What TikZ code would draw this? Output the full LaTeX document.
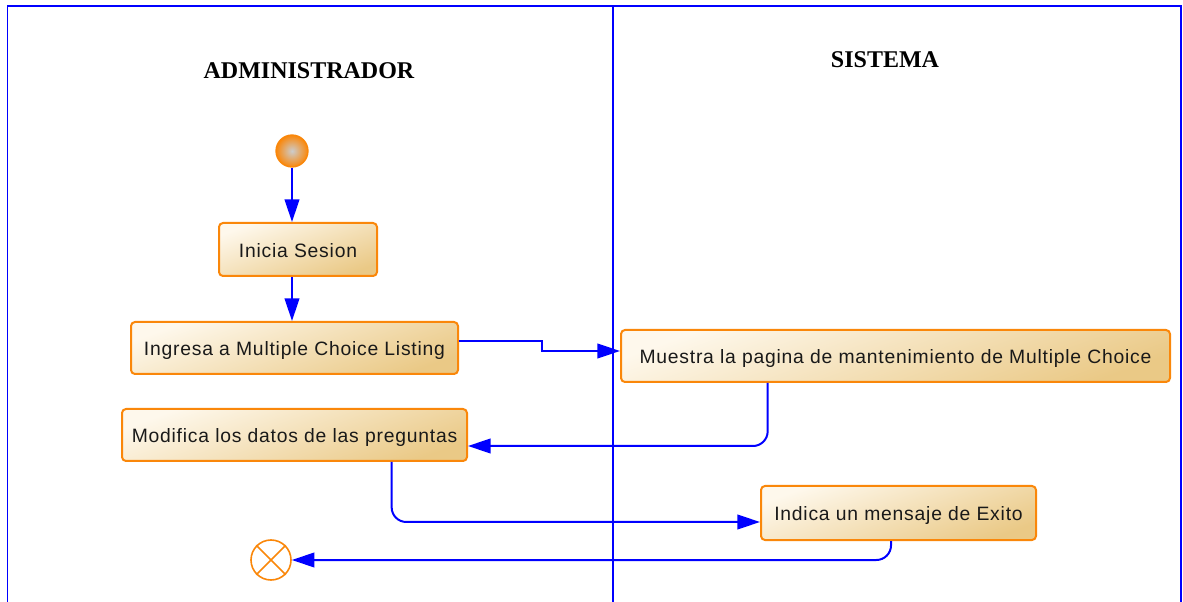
\documentclass[tikz,border=0pt]{standalone}
\usepackage{fontspec}
\setmainfont{Liberation Sans}
\newfontfamily\titlefont{Liberation Serif}
\newfontfamily\boxfont[LetterSpace=4]{Liberation Sans}
\usetikzlibrary{arrows.meta,calc}
\definecolor{laneblue}{RGB}{0,0,255}
\definecolor{boxborder}{RGB}{250,135,10}
\definecolor{boxlight}{RGB}{254,248,236}
\definecolor{boxdark}{RGB}{234,201,134}
\tikzset{
  actbox/.style={draw=boxborder, line width=1.5pt, rounded corners=3pt,
    top color=boxlight, bottom color=boxdark, shading angle=20,
    inner sep=0pt, text height=12pt, text depth=0pt,
    font=\boxfont\fontsize{14.5}{17}\selectfont, text=black!90},
  tip/.style={-{Triangle[length=17pt,width=11pt]}},
  conn/.style={draw=laneblue, line width=1.5pt, rounded corners=11pt, tip},
  lane/.style={draw=laneblue, line width=1.3pt},
  lanetitle/.style={font=\titlefont\bfseries\fontsize{18}{20}\selectfont},
}
\begin{document}
\begin{tikzpicture}[x=0.75pt,y=-0.75pt]
\useasboundingbox (0,0) rectangle (1183,602);
% swimlanes
\draw[lane] (7.5,602) -- (7.5,6) -- (1181,6) -- (1181,602);
\draw[lane] (613,6) -- (613,602);
\node[lanetitle] (t1) at (309,71) {ADMINISTRADOR};
\node[lanetitle] (t2) at (885,60) {SISTEMA};
% start
\node[circle, minimum size=24pt, inner sep=0pt, draw=boxborder, line width=1pt,
  inner color=black!20, outer color=boxborder] (st) at (292,151) {};
% activities
\node[actbox, minimum width=118.5pt, minimum height=39.75pt] (ini) at (298,249.5) {Inicia Sesion};
\node[actbox, minimum width=245.25pt, minimum height=39pt] (ing) at (294.5,348) {Ingresa a Multiple Choice Listing};
\node[actbox, minimum width=411.75pt, minimum height=39pt] (mu) at (895.5,356) {Muestra la pagina de mantenimiento de Multiple Choice};
\node[actbox, minimum width=258.75pt, minimum height=39pt] (mo) at (294.5,435) {Modifica los datos de las preguntas};
\node[actbox, minimum width=206.25pt, minimum height=40.5pt] (ind) at (898.5,513) {Indica un mensaje de Exito};
% end
\node[circle, minimum size=30pt, inner sep=0pt, draw=boxborder, line width=1.2pt, fill=white] (en) at (271,560) {};
\draw[boxborder, line width=1.2pt] (en.north west) -- (en.south east) (en.north east) -- (en.south west);
% connectors
\draw[conn] (st.south) -- (st.south |- ini.north);
\draw[conn] (st.south |- ini.south) -- (st.south |- ing.north);
\coordinate (a1) at ($(ing.east)+(0,-7)$);
\coordinate (a2) at ($(mu.west)+(0,-5)$);
\draw[draw=laneblue, line width=1.5pt, tip] (a1) -- ++(83,0) |- (a2);
\coordinate (b1) at ($(mu.south west)!0.268!(mu.south east)$);
\coordinate (b2) at ($(mo.east)+(0,11)$);
\draw[conn] (b1) |- (b2);
\coordinate (c1) at ($(mo.south west)!0.78!(mo.south east)$);
\coordinate (c2) at ($(ind.west)+(0,9)$);
\draw[conn] (c1) |- (c2);
\coordinate (d1) at ($(ind.south west)!0.473!(ind.south east)$);
\draw[conn] (d1) |- (en.east);
\end{tikzpicture}
\end{document}
